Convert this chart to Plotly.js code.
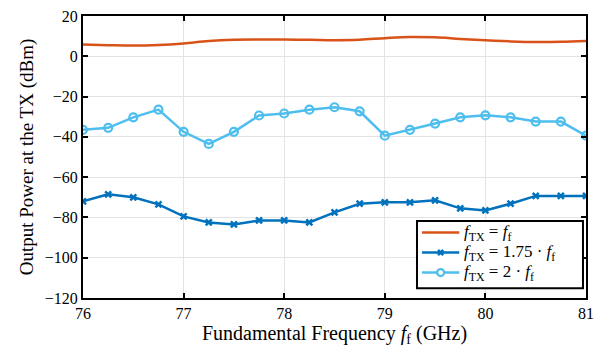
<!DOCTYPE html>
<html><head><meta charset="utf-8">
<script src="https://cdn.plot.ly/plotly-3.0.1.min.js"></script>
<style>body{margin:0;padding:0;background:#fff}#c{width:596px;height:351px}</style>
</head><body><div id="c"></div>
<script>
const freq = [76,76.25,76.5,76.75,77,77.25,77.5,77.75,78,78.25,78.5,78.75,79,79.25,79.5,79.75,80,80.25,80.5,80.75,81];
const pFund = [5.8,5.5,5.3,5.6,6.4,7.6,8.2,8.3,8.3,8.2,8.0,8.2,9.0,9.6,9.4,8.6,7.9,7.4,7.1,7.2,7.6];
const p175 = [-72,-68.5,-70,-73.5,-79.5,-82.5,-83.5,-81.5,-81.5,-82.5,-77.5,-73.2,-72.5,-72.5,-71.5,-75.5,-76.5,-73.2,-69.3,-69.3,-69.3];
const p2 = [-36.5,-35.5,-30.3,-26.5,-37.5,-43.5,-37.5,-29.4,-28.4,-26.5,-25.3,-27.3,-39.4,-36.5,-33.4,-30.3,-29.3,-30.3,-32.4,-32.4,-39.4];
const names = ['<i>f</i><sub>TX</sub> = <i>f</i><sub>f</sub>','<i>f</i><sub>TX</sub> = 1.75 · <i>f</i><sub>f</sub>','<i>f</i><sub>TX</sub> = 2 · <i>f</i><sub>f</sub>'];
const colors = ['#D95319','#0072BD','#4DBEEE'];
const markers = ['none','x','circle'];
const font = 'Liberation Serif, DejaVu Serif, serif';
const traces = [
 {x:freq,y:pFund,name:names[0],mode:'lines',line:{color:colors[0],width:2.5,shape:'spline'}},
 {x:freq,y:p175,name:names[1],mode:'lines+markers',line:{color:colors[1],width:2.5},marker:{symbol:'x-thin-open',size:6,line:{color:colors[1],width:2.5}}},
 {x:freq,y:p2,name:names[2],mode:'lines+markers',line:{color:colors[2],width:2.5},marker:{symbol:'circle-open',size:8,color:colors[2],line:{width:2.2}}}
];
// custom legend (paper coordinates)
const W = 503, H = 282;
const lg = {x0:0.664,x1:0.994,y0:0.035,y1:0.273,lx0:0.674,lx1:0.748,tx:0.753,rows:[0.232,0.161,0.090]};
const shapes = [{type:'rect',xref:'paper',yref:'paper',x0:lg.x0,x1:lg.x1,y0:lg.y0,y1:lg.y1,fillcolor:'#fff',line:{color:'#000',width:2},layer:'above'}];
const annotations = [];
names.forEach((n,i)=>{
  const yy = lg.rows[i];
  shapes.push({type:'line',xref:'paper',yref:'paper',x0:lg.lx0,x1:lg.lx1,y0:yy,y1:yy,line:{color:colors[i],width:2.5},layer:'above'});
  const cx=(lg.lx0+lg.lx1)/2, rx=3.5/W, ry=3.5/H;
  if(markers[i]==='circle') shapes.push({type:'circle',xref:'paper',yref:'paper',x0:cx-rx,x1:cx+rx,y0:yy-ry,y1:yy+ry,fillcolor:'#fff',line:{color:colors[i],width:2.2},layer:'above'});
  if(markers[i]==='x'){
    const d=2.6;
    shapes.push({type:'line',xref:'paper',yref:'paper',x0:cx-d/W,x1:cx+d/W,y0:yy-d/H,y1:yy+d/H,line:{color:colors[i],width:2.5},layer:'above'});
    shapes.push({type:'line',xref:'paper',yref:'paper',x0:cx-d/W,x1:cx+d/W,y0:yy+d/H,y1:yy-d/H,line:{color:colors[i],width:2.5},layer:'above'});
  }
  annotations.push({xref:'paper',yref:'paper',x:lg.tx,y:yy,xanchor:'left',yanchor:'middle',showarrow:false,text:n,font:{family:font,size:17,color:'#000'}});
});
const axis = {showline:true,linecolor:'#000',linewidth:2,mirror:'ticks',ticks:'inside',ticklen:5,tickwidth:2,tickcolor:'#000',showgrid:true,gridcolor:'#e3e3e3',gridwidth:1,zeroline:false,tickfont:{family:font,size:16,color:'#000'}};
const layout = {
 width:596,height:351,margin:{l:83,r:10,t:16,b:53},
 paper_bgcolor:'#fff',plot_bgcolor:'#fff',font:{family:font,color:'#000'},
 xaxis:Object.assign({},axis,{range:[76,81],dtick:1,title:{text:'Fundamental Frequency <i>f</i><sub>f</sub> (GHz)',font:{family:font,size:20},standoff:4}}),
 yaxis:Object.assign({},axis,{range:[-120,20],dtick:20,title:{text:'Output Power at the TX (dBm)',font:{family:font,size:19},standoff:6}}),
 showlegend:false,shapes:shapes,annotations:annotations
};
Plotly.newPlot('c',traces,layout,{displayModeBar:false,staticPlot:true});
</script></body></html>
